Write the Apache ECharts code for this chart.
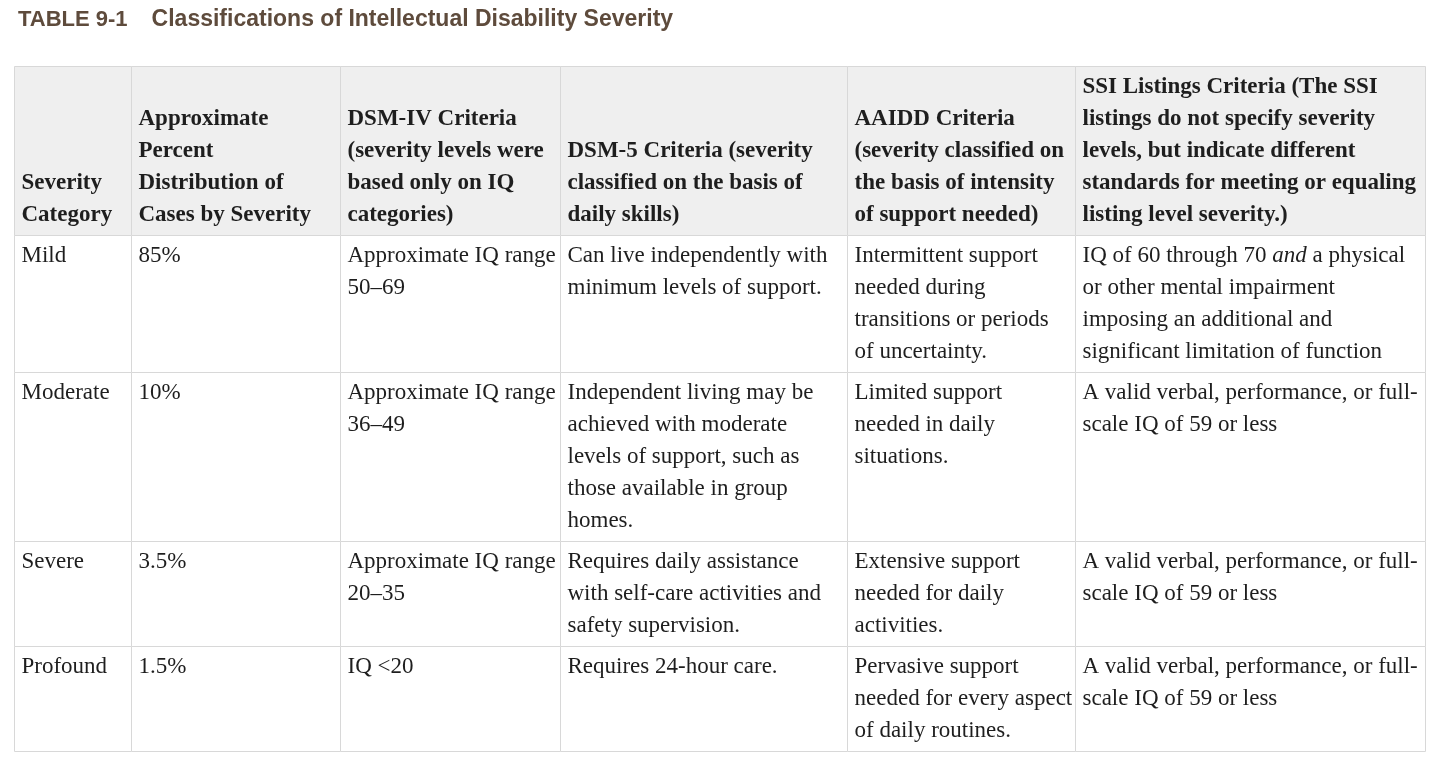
<!DOCTYPE html>
<html>
<head>
<meta charset="utf-8">
<title>Classifications of Intellectual Disability Severity</title>
<script src="https://cdn.jsdelivr.net/npm/echarts@6/dist/echarts.min.js"></script>
<style>
  html, body { margin: 0; padding: 0; background: #fff; }
  #chart { width: 1440px; height: 774px; }
</style>
</head>
<body>
<div id="chart"></div>
<script>
// table content
const headers = [
  'Severity\nCategory',
  'Approximate\nPercent\nDistribution of\nCases by Severity',
  'DSM-IV Criteria\n(severity levels were\nbased only on IQ\ncategories)',
  'DSM-5 Criteria (severity\nclassified on the basis of\ndaily skills)',
  'AAIDD Criteria\n(severity classified on\nthe basis of intensity\nof support needed)',
  'SSI Listings Criteria (The SSI\nlistings do not specify severity\nlevels, but indicate different\nstandards for meeting or equaling\nlisting level severity.)'
]
const severity = ['Mild', 'Moderate', 'Severe', 'Profound']
const percent = ['85%', '10%', '3.5%', '1.5%']
const dsm4 = [
  'Approximate IQ range\n50–69',
  'Approximate IQ range\n36–49',
  'Approximate IQ range\n20–35',
  'IQ <20'
]
const dsm5 = [
  'Can live independently with\nminimum levels of support.',
  'Independent living may be\nachieved with moderate\nlevels of support, such as\nthose available in group\nhomes.',
  'Requires daily assistance\nwith self-care activities and\nsafety supervision.',
  'Requires 24-hour care.'
]
const aaidd = [
  'Intermittent support\nneeded during\ntransitions or periods\nof uncertainty.',
  'Limited support\nneeded in daily\nsituations.',
  'Extensive support\nneeded for daily\nactivities.',
  'Pervasive support\nneeded for every aspect\nof daily routines.'
]
const ssi = [
  'IQ of 60 through 70 {i|and} a physical\nor other mental impairment\nimposing an additional and\nsignificant limitation of function',
  'A valid verbal, performance, or full-\nscale IQ of 59 or less',
  'A valid verbal, performance, or full-\nscale IQ of 59 or less',
  'A valid verbal, performance, or full-\nscale IQ of 59 or less'
]

// layout
const colEdges = [14, 131, 340, 560, 847, 1075, 1425]
const tableTop = 66
const lineH = 32
const padTop = 5
const padBottom = 4
const padLeft = 7

const columns = [severity, percent, dsm4, dsm5, aaidd, ssi]
const rows = [headers]
severity.forEach((s, r) => rows.push(columns.map(col => col[r])))

const lineCount = t => t.split('\n').length
const rowEdges = [tableTop]
rows.forEach(row => {
  const n = Math.max(...row.map(lineCount))
  rowEdges.push(rowEdges[rowEdges.length - 1] + padTop + n * lineH + padBottom)
})

const cells = []
rows.forEach((row, r) => row.forEach((t, c) => cells.push([c, r])))

const chart = echarts.init(document.getElementById('chart'))

const renderCell = (params, api) => {
  const c = api.value(0)
  const r = api.value(1)
  const p0 = api.coord([colEdges[c], rowEdges[r]])
  const p1 = api.coord([colEdges[c + 1], rowEdges[r + 1]])
  const isHead = r === 0
  const x = Math.round(p0[0]) + 0.5
  const y = Math.round(p0[1]) + 0.5
  const w = Math.round(p1[0]) - Math.round(p0[0])
  const h = Math.round(p1[1]) - Math.round(p0[1])
  return {
    type: 'group',
    children: [
      {
        type: 'rect',
        shape: { x: x, y: y, width: w, height: h },
        style: { fill: isHead ? '#efefef' : '#ffffff', stroke: '#d8d8d8', lineWidth: 1 }
      },
      {
        type: 'text',
        style: {
          text: rows[r][c],
          x: x + padLeft,
          y: isHead ? y + h - padBottom : y + padTop - 1,
          verticalAlign: isHead ? 'bottom' : 'top',
          align: 'left',
          fontFamily: '"Liberation Serif", "Times New Roman", serif',
          fontSize: 23,
          fontWeight: isHead ? 'bold' : 'normal',
          lineHeight: lineH,
          fill: '#1e1e1e',
          rich: {
            i: {
              fontFamily: '"Liberation Serif", "Times New Roman", serif',
              fontSize: 23,
              fontStyle: 'italic',
              lineHeight: lineH,
              color: '#1e1e1e'
            }
          }
        }
      }
    ]
  }
}

const option = {
  animation: false,
  title: {
    text: '{a|TABLE 9-1}{b|Classifications of Intellectual Disability Severity}',
    left: 13,
    top: 3,
    textStyle: {
      rich: {
        a: { fontFamily: '"Liberation Sans", Arial, sans-serif', fontSize: 22, fontWeight: 'bold', color: '#5e4b3c' },
        b: { fontFamily: '"Liberation Sans", Arial, sans-serif', fontSize: 23, fontWeight: 'bold', color: '#5e4b3c', padding: [0, 0, 0, 24] }
      }
    }
  },
  grid: { left: 0, right: 0, top: 0, bottom: 0 },
  xAxis: { type: 'value', min: 0, max: 1440, show: false },
  yAxis: { type: 'value', min: 0, max: 774, inverse: true, show: false },
  series: [
    {
      type: 'custom',
      renderItem: renderCell,
      data: cells,
      clip: false
    }
  ]
}

chart.setOption(option)
</script>
</body>
</html>
